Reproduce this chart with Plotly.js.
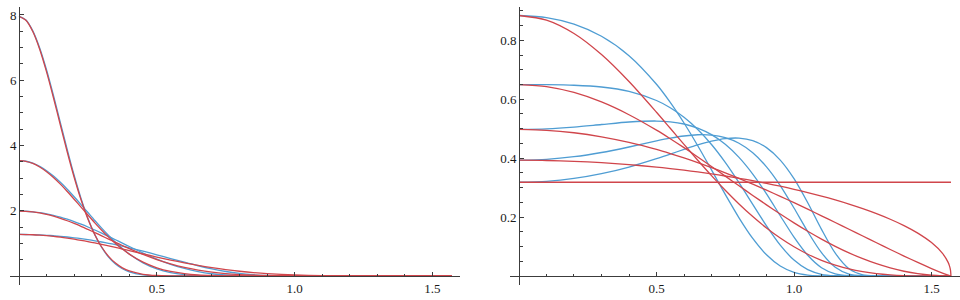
<!DOCTYPE html>
<html>
<head>
<meta charset="utf-8">
<script src="https://cdn.plot.ly/plotly-3.0.1.min.js"></script>
<style>html,body{margin:0;padding:0;background:#fff;}#chart{width:960px;height:300px;}</style>
</head>
<body>
<div id="chart"></div>
<script>
// ---------- left panel (alpha = 0.2 ... 0.5) ----------
var xL = [0,0.025,0.05,0.075,0.1,0.125,0.15,0.175,0.2,0.225,0.25,0.275,0.3,0.325,0.35,0.375,0.4,0.45,0.5,0.55,0.6,0.65,0.7,0.75,0.8,0.85,0.9,1.0,1.1,1.2,1.3,1.4,1.5,1.5708];

var redL1  = [7.958,7.839,7.494,6.952,6.256,5.464,4.628,3.801,3.028,2.337,1.748,1.266,0.888,0.602,0.395,0.251,0.154,0.052,0.015,0.004,0.001,0,0,0,0,0,0,0,0,0,0,0,0,0];
var blueL1 = [7.958,7.844,7.512,6.988,6.313,5.533,4.703,3.874,3.088,2.379,1.769,1.268,0.873,0.578,0.365,0.221,0.127,0.035,0.008,0.001,0,0,0,0,0,0,0,0,0,0,0,0,0,0];

var redL2  = [3.537,3.515,3.449,3.341,3.196,3.019,2.815,2.591,2.354,2.111,1.868,1.630,1.404,1.192,0.999,0.824,0.670,0.424,0.252,0.140,0.073,0.035,0.016,0.006,0.002,0.001,0,0,0,0,0,0,0,0];
var blueL2 = [3.537,3.517,3.457,3.359,3.227,3.062,2.871,2.658,2.428,2.189,1.945,1.702,1.466,1.242,1.033,0.844,0.674,0.403,0.216,0.103,0.042,0.014,0.004,0.001,0,0,0,0,0,0,0,0,0,0];

var redL3  = [1.989,1.983,1.964,1.932,1.887,1.832,1.767,1.693,1.610,1.522,1.428,1.331,1.231,1.131,1.032,0.934,0.839,0.662,0.505,0.373,0.265,0.182,0.119,0.075,0.045,0.025,0.014,0.003,0.0005,0,0,0,0,0];
var blueL3 = [1.989,1.984,1.968,1.942,1.906,1.860,1.805,1.740,1.668,1.588,1.502,1.410,1.313,1.213,1.111,1.008,0.905,0.704,0.519,0.359,0.230,0.134,0.069,0.031,0.011,0.003,0.001,0,0,0,0,0,0,0];

var redL4  = [1.273,1.271,1.264,1.252,1.236,1.215,1.190,1.161,1.128,1.092,1.054,1.012,0.968,0.922,0.875,0.827,0.777,0.679,0.582,0.489,0.402,0.324,0.255,0.195,0.146,0.105,0.074,0.032,0.011,0.003,0.0005,0,0,0];
var blueL4 = [1.273,1.272,1.267,1.259,1.248,1.233,1.216,1.195,1.171,1.144,1.113,1.079,1.042,1.003,0.960,0.914,0.865,0.762,0.651,0.536,0.422,0.314,0.218,0.138,0.078,0.038,0.015,0.001,0,0,0,0,0,0];

// ---------- right panel (alpha = 0.6 ... 1.0) ----------
var xR = [0,0.1,0.2,0.3,0.4,0.5,0.55,0.6,0.65,0.7,0.75,0.8,0.85,0.9,0.95,1.0,1.05,1.1,1.15,1.2,1.25,1.3,1.35,1.4,1.45,1.5,1.54,1.56,1.565,1.569,1.5708];

var redA  = [0.8842,0.8686,0.8231,0.7516,0.6601,0.5558,0.5014,0.4468,0.3930,0.3409,0.2912,0.2446,0.2018,0.1631,0.1288,0.0991,0.0739,0.0532,0.0367,0.0239,0.0146,0.0081,0.0040,0.0016,0.0005,0.0001,0,0,0,0,0];
var redB  = [0.6496,0.6429,0.6230,0.5907,0.5474,0.4950,0.4660,0.4356,0.4041,0.3718,0.3390,0.3062,0.2735,0.2415,0.2103,0.1803,0.1519,0.1253,0.1008,0.0785,0.0588,0.0417,0.0275,0.0162,0.0079,0.0026,0.0005,0.0001,0,0,0];
var redC  = [0.4974,0.4946,0.4862,0.4724,0.4534,0.4294,0.4156,0.4008,0.3848,0.3679,0.3500,0.3312,0.3116,0.2913,0.2704,0.2488,0.2268,0.2044,0.1817,0.1587,0.1358,0.1128,0.0901,0.0677,0.0460,0.0253,0.0099,0.0031,0.0015,0.0004,0];
var redD  = [0.3930,0.3921,0.3893,0.3846,0.3781,0.3696,0.3646,0.3591,0.3531,0.3465,0.3394,0.3317,0.3234,0.3144,0.3048,0.2944,0.2832,0.2712,0.2582,0.2441,0.2287,0.2117,0.1927,0.1711,0.1456,0.1134,0.0768,0.0470,0.0351,0.0202,0];
var redE  = [0.3183,0.3183,0.3183,0.3183,0.3183,0.3183,0.3183,0.3183,0.3183,0.3183,0.3183,0.3183,0.3183,0.3183,0.3183,0.3183,0.3183,0.3183,0.3183,0.3183,0.3183,0.3183,0.3183,0.3183,0.3183,0.3183,0.3183,0.3183,0.3183,0.3183,0.3183];

var blueA = [0.8842,0.8772,0.8550,0.8137,0.7478,0.6507,0.5892,0.5193,0.4422,0.3601,0.2769,0.1975,0.1274,0.0719,0.0338,0.0123,0.0031,0.0005,0,0,0,0,0,0,0,0,0,0,0,0,0];
var blueB = [0.6496,0.6493,0.6475,0.6415,0.6267,0.5956,0.5711,0.5386,0.4973,0.4463,0.3857,0.3168,0.2432,0.1703,0.1049,0.0540,0.0215,0.0058,0.0009,0.0001,0,0,0,0,0,0,0,0,0,0,0];
var blueC = [0.4974,0.4995,0.5055,0.5142,0.5227,0.5260,0.5233,0.5159,0.5020,0.4797,0.4471,0.4027,0.3461,0.2787,0.2046,0.1319,0.0703,0.0282,0.0073,0.0009,0,0,0,0,0,0,0,0,0,0,0];
var blueD = [0.3930,0.3960,0.4049,0.4192,0.4379,0.4584,0.4677,0.4752,0.4794,0.4783,0.4696,0.4505,0.4183,0.3705,0.3070,0.2308,0.1505,0.0791,0.0296,0.0065,0.0006,0,0,0,0,0,0,0,0,0,0];
var blueE = [0.3183,0.3215,0.3311,0.3473,0.3699,0.3982,0.4138,0.4296,0.4447,0.4576,0.4663,0.4680,0.4592,0.4356,0.3934,0.3303,0.2486,0.1584,0.0775,0.0247,0.0038,0.0001,0,0,0,0,0,0,0,0,0];

// ---------- ticks ----------
var xTickVals = [0.5, 1.0, 1.5];
var xTickText = ['0.5', '1.0', '1.5'];
var xMinor = [0.1,0.2,0.3,0.4,0.6,0.7,0.8,0.9,1.1,1.2,1.3,1.4];
var yLTickVals = [2, 4, 6, 8];
var yLTickText = ['2', '4', '6', '8'];
var yLMinor = [0.5,1,1.5,2.5,3,3.5,4.5,5,5.5,6.5,7,7.5];
var yRTickVals = [0.2, 0.4, 0.6, 0.8];
var yRTickText = ['0.2', '0.4', '0.6', '0.8'];
var yRMinor = [0.05,0.1,0.15,0.25,0.3,0.35,0.45,0.5,0.55,0.65,0.7,0.75,0.85,0.9];

var RED = '#d0454b', BLUE = '#4f9dd3';
function line(x, y, color, xa, ya) {
  return {x: x, y: y, type: 'scatter', mode: 'lines', xaxis: xa, yaxis: ya,
          line: {color: color, width: 1.3, shape: 'spline', smoothing: 0.8},
          hoverinfo: 'skip'};
}
var traces = [
  line(xL, blueL1, BLUE, 'x', 'y'), line(xL, blueL2, BLUE, 'x', 'y'),
  line(xL, blueL3, BLUE, 'x', 'y'), line(xL, blueL4, BLUE, 'x', 'y'),
  line(xL, redL1, RED, 'x', 'y'), line(xL, redL2, RED, 'x', 'y'),
  line(xL, redL3, RED, 'x', 'y'), line(xL, redL4, RED, 'x', 'y'),
  line(xR, blueA, BLUE, 'x2', 'y2'), line(xR, blueB, BLUE, 'x2', 'y2'),
  line(xR, blueC, BLUE, 'x2', 'y2'), line(xR, blueD, BLUE, 'x2', 'y2'),
  line(xR, blueE, BLUE, 'x2', 'y2'),
  line(xR, redA, RED, 'x2', 'y2'), line(xR, redB, RED, 'x2', 'y2'),
  line(xR, redC, RED, 'x2', 'y2'), line(xR, redD, RED, 'x2', 'y2'),
  line(xR, redE, RED, 'x2', 'y2')
];

var AX = '#3c3c3c';
var tickFont = {family: 'Liberation Serif', size: 13, color: '#1a1a1a'};
function xax(domain, range) {
  return {domain: domain, range: range, anchor: 'free', position: 24/300,
          showline: true, linecolor: AX, linewidth: 1, zeroline: false, showgrid: false,
          ticks: 'inside', ticklen: 4, tickwidth: 1, tickcolor: AX,
          tickmode: 'array', tickvals: xTickVals, ticktext: xTickText, tickfont: tickFont,
          minor: {tickmode: 'array', tickvals: xMinor, ticks: 'inside', ticklen: 2.5, tickwidth: 1, tickcolor: AX, showgrid: false},
          fixedrange: true};
}
function yax(position, range, tv, tt, mv) {
  return {domain: [15/300, 293/300], range: range, anchor: 'free', position: position,
          showline: true, linecolor: AX, linewidth: 1, zeroline: false, showgrid: false,
          ticks: 'inside', ticklen: 4, tickwidth: 1, tickcolor: AX,
          tickmode: 'array', tickvals: tv, ticktext: tt, tickfont: tickFont,
          minor: {tickmode: 'array', tickvals: mv, ticks: 'inside', ticklen: 2.5, tickwidth: 1, tickcolor: AX, showgrid: false},
          fixedrange: true};
}
var layout = {
  width: 960, height: 300, margin: {l: 0, r: 0, t: 0, b: 0},
  paper_bgcolor: '#fff', plot_bgcolor: '#fff', showlegend: false,
  xaxis: xax([10/960, 460/960], [-0.0327, 1.6]),
  yaxis: yax(19/960, [-0.276, 8.245], yLTickVals, yLTickText, yLMinor),
  xaxis2: xax([510/960, 1], [-0.0327, 1.6036]),
  yaxis2: yax(519/960, [-0.0305, 0.913], yRTickVals, yRTickText, yRMinor)
};
Plotly.newPlot('chart', traces, layout, {displayModeBar: false, staticPlot: true});
</script>
</body>
</html>
